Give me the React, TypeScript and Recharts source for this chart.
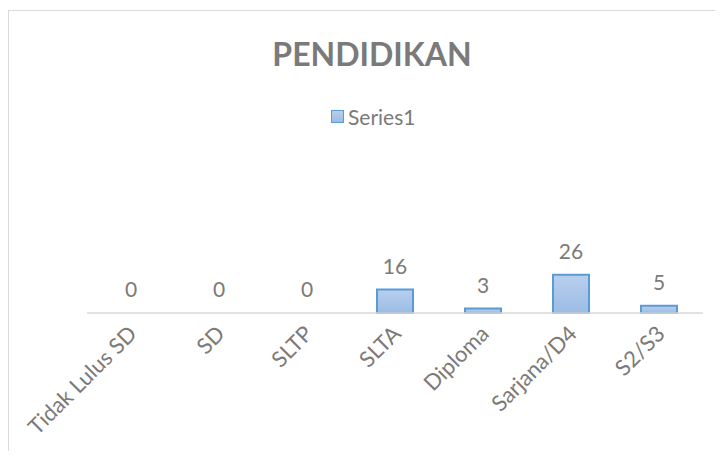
import React from "react";
import { ComposedChart, Bar, Line, XAxis, YAxis, LabelList, Legend } from "recharts";

const categories = ["Tidak Lulus SD", "SD", "SLTP", "SLTA", "Diploma", "Sarjana/D4", "S2/S3"];
const series1 = [0, 0, 0, 16, 3, 26, 5];
const seriesName = "Series1";
const title = "PENDIDIKAN";

const data = categories.map((c, i) => ({ name: c, value: series1[i] }));

const FONT = "Lato, 'Open Sans', sans-serif";
const TEXT = "#7a7a7a";

const Tick = (props: any) => {
  const { x, y, payload } = props;
  return (
    <g transform={`translate(${x - 4},${y + 3})`}>
      <text
        transform="rotate(-45)"
        textAnchor="end"
        dy="0.72em"
        fontSize={22}
        fill={TEXT}
        fontFamily={FONT}
      >
        {payload.value}
      </text>
    </g>
  );
};

const LegendContent = () => (
  <div
    style={{
      position: "absolute",
      left: 331,
      top: 104,
      display: "flex",
      alignItems: "center",
      fontFamily: FONT,
      fontSize: 21,
      color: TEXT,
      whiteSpace: "nowrap",
    }}
  >
    <span
      style={{
        display: "inline-block",
        width: 11,
        height: 11,
        border: "1px solid #5b9bd5",
        background: "linear-gradient(#b8cfee, #9cbce5)",
        marginRight: 4,
      }}
    />
    <span>{seriesName}</span>
  </div>
);

export default function App() {
  return (
    <div
      style={{
        position: "relative",
        width: 723,
        height: 459,
        margin: -8,
        overflow: "hidden",
        background: "#fff",
      }}
    >
      <div
        style={{
          position: "absolute",
          left: 7,
          top: 10,
          width: 800,
          height: 600,
          borderLeft: "2px solid #d9d9d9",
          borderTop: "1px solid #d9d9d9",
          boxSizing: "border-box",
        }}
      />
      <div style={{ position: "absolute", left: 0, top: 0 }}>
        <ComposedChart
          width={723}
          height={459}
          data={data}
          margin={{ top: 269, right: 20, bottom: 0, left: 87 }}
          barSize={36}
        >
          <defs>
            <linearGradient id="barGrad" x1="0" y1="0" x2="0" y2="1">
              <stop offset="0%" stopColor="#b8cfee" />
              <stop offset="100%" stopColor="#9cbce5" />
            </linearGradient>
          </defs>
          <XAxis
            dataKey="name"
            height={146}
            interval={0}
            tickLine={false}
            axisLine={{ stroke: "#d9d9d9", strokeWidth: 1.5 }}
            tick={<Tick />}
          />
          <YAxis hide domain={[0, 30]} />
          <Legend content={<LegendContent />} wrapperStyle={{ position: "absolute", top: 0, left: 0 }} />
          <Bar
            dataKey="value"
            name={seriesName}
            fill="url(#barGrad)"
            stroke="#5b9bd5"
            strokeWidth={2}
            isAnimationActive={false}
          />
          <Line
            dataKey="value"
            stroke="none"
            dot={false}
            activeDot={false}
            legendType="none"
            isAnimationActive={false}
          >
            <LabelList
              dataKey="value"
              position="top"
              offset={16}
              fill={TEXT}
              fontSize={21}
              fontFamily={FONT}
            />
          </Line>
        </ComposedChart>
      </div>
      <svg
        width={723}
        height={459}
        style={{ position: "absolute", left: 0, top: 0, pointerEvents: "none" }}
      >
        <text
          x={372}
          y={66}
          textAnchor="middle"
          fontFamily={FONT}
          fontWeight="bold"
          fontSize={32}
          fill={TEXT}
        >
          {title}
        </text>
      </svg>
    </div>
  );
}
